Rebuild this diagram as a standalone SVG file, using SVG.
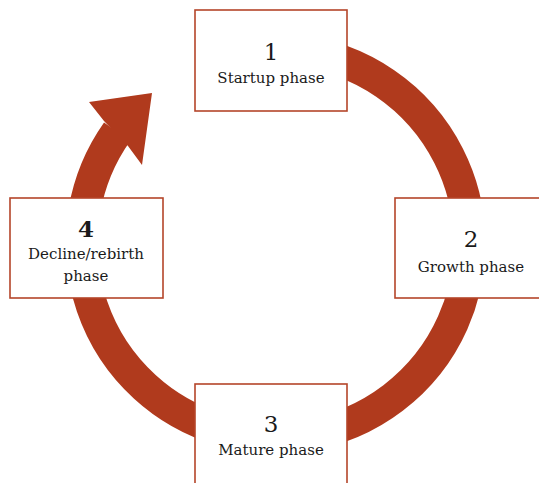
<svg xmlns="http://www.w3.org/2000/svg" width="539" height="483" viewBox="0 0 539 483">
<style>
.box{fill:#ffffff;stroke:#b5452a;stroke-width:1.6}
.num{font-family:"DejaVu Serif","Liberation Serif",serif;font-size:23px;fill:#1a1a1a;text-anchor:middle}
.lbl{font-family:"DejaVu Serif","Liberation Serif",serif;font-size:15px;fill:#1a1a1a;text-anchor:middle}
.ring{fill:none;stroke:#b03a1d;stroke-width:32}
</style>
<rect width="539" height="483" fill="#ffffff"/>
<g id="connectors">
<path class="ring" d="M 210,61 A 194 194 0 1 1 117.1,131.7"/>
<polygon points="104,121 89,102 152,93 142,165 128,146" fill="#b03a1d"/>
</g>
<g id="node1">
<rect class="box" x="195" y="10" width="152" height="101"/>
<text class="num" x="271" y="60">1</text>
<text class="lbl" x="271" y="83">Startup phase</text>
</g>
<g id="node2">
<rect class="box" x="395" y="198" width="160" height="100"/>
<text class="num" x="471" y="247">2</text>
<text class="lbl" x="471" y="272">Growth phase</text>
</g>
<g id="node3">
<rect class="box" x="195" y="384" width="152" height="110"/>
<text class="num" x="271" y="432">3</text>
<text class="lbl" x="271" y="455">Mature phase</text>
</g>
<g id="node4">
<rect class="box" x="10" y="198" width="153" height="100"/>
<text class="num" x="86" y="237" font-weight="bold">4</text>
<text class="lbl" x="86" y="259">Decline/rebirth</text>
<text class="lbl" x="86" y="281">phase</text>
</g>
</svg>
